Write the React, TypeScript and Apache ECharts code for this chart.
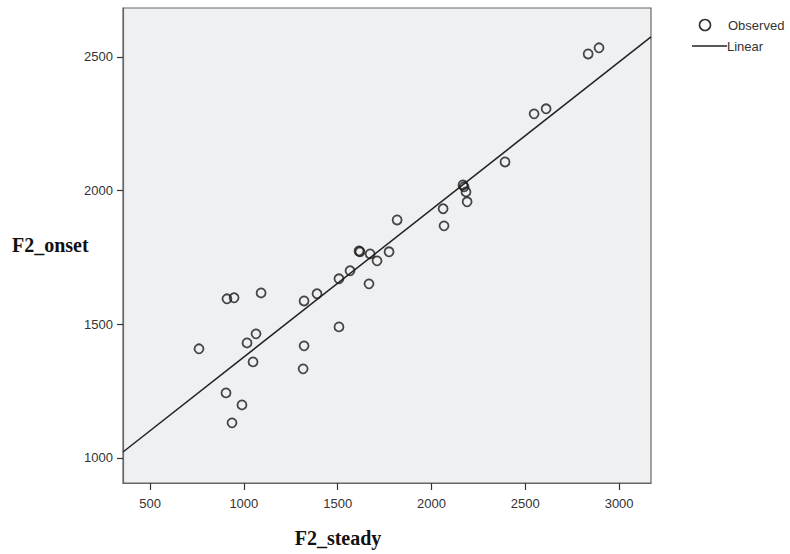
import React, { useEffect, useRef } from "react";
import * as echarts from "echarts";

const steadyValues = [
  761, 910, 948, 1092, 1017, 1065, 1049, 905, 990, 937,
  1321, 1390, 1507, 1566, 1614, 1619, 1673, 1710, 1774, 1667,
  1507, 1321, 1316, 1817, 2062, 2067, 2168, 2174, 2184, 2190,
  2392, 2547, 2611, 2835, 2893,
];
const onsetValues = [
  1408, 1595, 1599, 1617, 1430, 1464, 1359, 1243, 1198, 1131,
  1587, 1614, 1670, 1700, 1774, 1771, 1763, 1737, 1771, 1651,
  1490, 1419, 1333, 1890, 1932, 1868, 2021, 2014, 1995, 1958,
  2107, 2287, 2306, 2511, 2534,
];
const linearX = [356, 3170];
const linearY = [1022, 2575];
const xTicks = [500, 1000, 1500, 2000, 2500, 3000];
const yTicks = [1000, 1500, 2000, 2500];

export default function App() {
  const ref = useRef<HTMLDivElement>(null);
  useEffect(() => {
    if (!ref.current) return;
    const chart = echarts.init(ref.current, null, { renderer: "svg" });
    const scatterData = steadyValues.map((x, i) => [x, onsetValues[i]]);
    const lineData = linearX.map((x, i) => [x, linearY[i]]);
    const labelFont = "'Liberation Sans', Arial, sans-serif";
    const titleFont = "'Liberation Serif', 'Times New Roman', serif";
    const plain = (v: number) => String(v);
    chart.setOption({
      animation: false,
      backgroundColor: "#ffffff",
      grid: {
        left: 123,
        right: 139,
        top: 8,
        bottom: 71,
        show: true,
        backgroundColor: "#eff0f2",
        borderColor: "#666666",
        borderWidth: 1.2,
      },
      xAxis: {
        type: "value",
        min: 356,
        max: 3170,
        axisLine: { show: true, lineStyle: { color: "#666666", width: 1.2 } },
        axisTick: { show: true, length: 7, customValues: xTicks, lineStyle: { color: "#333333", width: 1.2 } },
        axisLabel: { customValues: xTicks, formatter: plain, fontSize: 13, color: "#333333", margin: 14, fontFamily: labelFont },
        splitLine: { show: false },
      },
      yAxis: {
        type: "value",
        min: 906,
        max: 2683,
        axisLine: { show: true, lineStyle: { color: "#666666", width: 1.2 } },
        axisTick: { show: true, length: 6, customValues: yTicks, lineStyle: { color: "#333333", width: 1.2 } },
        axisLabel: { customValues: yTicks, formatter: plain, fontSize: 13, color: "#333333", margin: 10, fontFamily: labelFont },
        splitLine: { show: false },
      },
      series: [
        {
          name: "Linear",
          type: "line",
          data: lineData,
          showSymbol: false,
          symbol: "none",
          lineStyle: { color: "#222222", width: 1.5 },
          clip: true,
          z: 2,
        },
        {
          name: "Observed",
          type: "scatter",
          data: scatterData,
          symbol: "circle",
          symbolSize: 9,
          itemStyle: { color: "rgba(0,0,0,0)", borderColor: "#1a1a1a", borderWidth: 1.8 },
          z: 3,
        },
      ],
      graphic: [
        {
          type: "text",
          left: 12,
          top: 235,
          style: { text: "F2_onset", font: `bold 20px ${titleFont}`, fill: "#111111" },
        },
        {
          type: "text",
          x: 338,
          y: 538,
          style: {
            text: "F2_steady",
            font: `bold 20px ${titleFont}`,
            fill: "#111111",
            textAlign: "center",
            textVerticalAlign: "middle",
          },
        },
        {
          type: "circle",
          shape: { cx: 705, cy: 25, r: 5.5 },
          style: { fill: "none", stroke: "#333333", lineWidth: 1.6 },
        },
        {
          type: "text",
          x: 728,
          y: 25,
          style: { text: "Observed", font: `13px ${labelFont}`, fill: "#333333", textVerticalAlign: "middle" },
        },
        {
          type: "line",
          shape: { x1: 692, y1: 46, x2: 727, y2: 46 },
          style: { stroke: "#222222", lineWidth: 1.3 },
        },
        {
          type: "text",
          x: 727,
          y: 46,
          style: { text: "Linear", font: `13px ${labelFont}`, fill: "#333333", textVerticalAlign: "middle" },
        },
      ],
    });
    return () => chart.dispose();
  }, []);
  return (
    <div
      ref={ref}
      style={{ position: "fixed", left: 0, top: 0, width: 790, height: 554 }}
    />
  );
}
